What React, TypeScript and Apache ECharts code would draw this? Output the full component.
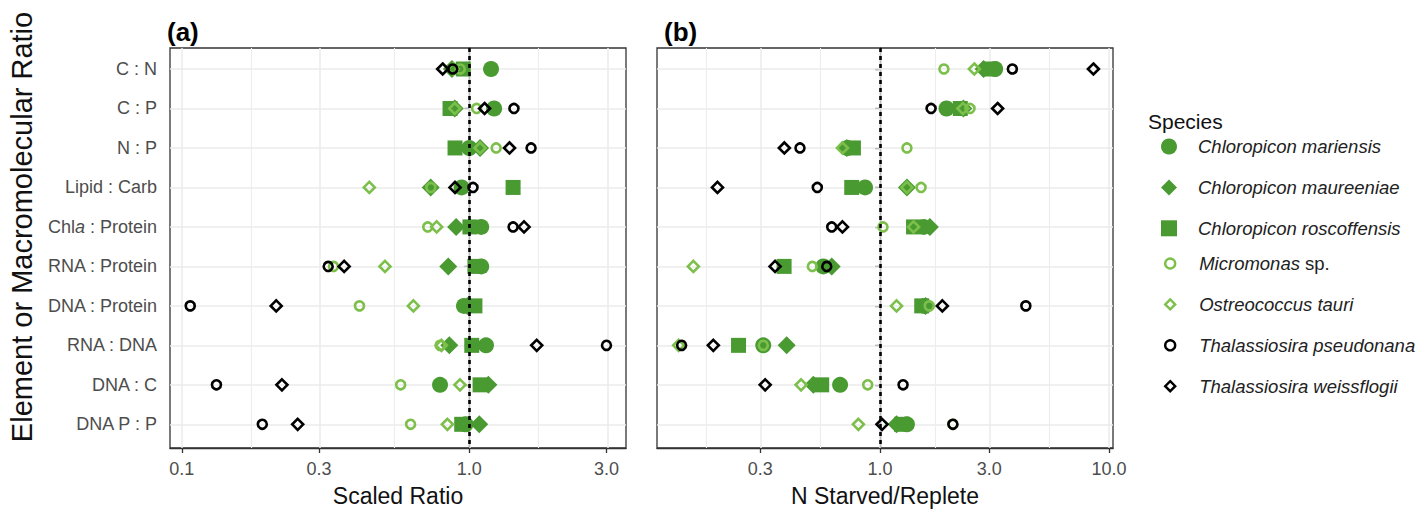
import React, { useEffect, useRef } from 'react';
import * as echarts from 'echarts';

const categories = [
  'C : N', 'C : P', 'N : P', 'Lipid : Carb', 'Chla : Protein',
  'RNA : Protein', 'DNA : Protein', 'RNA : DNA', 'DNA : C', 'DNA P : P',
];

const speciesNames = [
  'Chloropicon mariensis', 'Chloropicon maureeniae', 'Chloropicon roscoffensis',
  'Micromonas sp.', 'Ostreococcus tauri', 'Thalassiosira pseudonana', 'Thalassiosira weissflogii',
];

// Panel (a): scaled ratio, one value per category
const scaledMariensis = [1.19, 1.22, 1.0, 0.94, 1.10, 1.10, 0.958, 1.143, 0.791, 0.97];
const scaledMaureeniae = [0.87, 0.89, 1.09, 0.734, 0.90, 0.845, 0.985, 0.852, 1.165, 1.083];
const scaledRoscoffensis = [0.953, 0.857, 0.892, 1.42, 1.005, 1.046, 1.046, 1.02, 1.09, 0.941];
const scaledMicromonas = [0.93, 1.06, 1.24, 0.735, 0.717, 0.337, 0.415, 0.791, 0.577, 0.625];
const scaledOstreococcus = [0.88, 0.89, 1.09, 0.449, 0.77, 0.509, 0.639, 0.80, 0.928, 0.839];
const scaledPseudonana = [0.876, 1.43, 1.64, 1.03, 1.42, 0.323, 0.107, 3.0, 0.132, 0.1906];
const scaledWeissflogii = [0.808, 1.13, 1.38, 0.892, 1.55, 0.367, 0.213, 1.716, 0.223, 0.253];

// Panel (b): N starved / replete
const starvedMariensis = [3.18, 1.95, 0.72, 0.86, 1.55, 0.565, 1.56, 0.309, 0.669, 1.31];
const starvedMaureeniae = [2.83, 2.31, 0.716, 1.31, 1.65, 0.615, 1.58, 0.391, 0.511, 1.18];
const starvedRoscoffensis = [3.02, 2.24, 0.765, 0.752, 1.40, 0.381, 1.52, 0.241, 0.556, 1.24];
const starvedMicromonas = [1.90, 2.47, 1.31, 1.51, 1.03, 0.506, 1.64, 0.309, 0.883, 2.08];
const starvedOstreococcus = [2.58, 2.30, 0.685, 1.31, 1.40, 0.153, 1.18, 0.132, 0.452, 0.804];
const starvedPseudonana = [3.78, 1.67, 0.447, 0.532, 0.615, 0.585, 4.33, 0.136, 1.26, 2.08];
const starvedWeissflogii = [8.54, 3.26, 0.382, 0.195, 0.685, 0.348, 1.87, 0.187, 0.315, 1.02];

const ticksA = [0.1, 0.3, 1, 3];
const tickLabelsA = ['0.1', '0.3', '1.0', '3.0'];
const minorA = [0.1732, 0.5477, 1.732];
const ticksB = [0.3, 1, 3, 10];
const tickLabelsB = ['0.3', '1.0', '3.0', '10.0'];
const minorB = [0.1732, 0.5477, 1.732, 5.477];

const panelA = [scaledMariensis, scaledMaureeniae, scaledRoscoffensis, scaledMicromonas, scaledOstreococcus, scaledPseudonana, scaledWeissflogii];
const panelB = [starvedMariensis, starvedMaureeniae, starvedRoscoffensis, starvedMicromonas, starvedOstreococcus, starvedPseudonana, starvedWeissflogii];

const DARK = '#4a9a32';
const LIGHT = '#7cc04b';
const BLACK = '#000000';
const NONE = 'rgba(0,0,0,0)';

const markerStyles = [
  { symbol: 'circle', size: 16, fill: DARK, stroke: DARK, bw: 0 },
  { symbol: 'diamond', size: 18, fill: DARK, stroke: DARK, bw: 0 },
  { symbol: 'rect', size: 15, fill: DARK, stroke: DARK, bw: 0 },
  { symbol: 'circle', size: 9, fill: NONE, stroke: LIGHT, bw: 2.6 },
  { symbol: 'diamond', size: 11, fill: NONE, stroke: LIGHT, bw: 2.6 },
  { symbol: 'circle', size: 9, fill: NONE, stroke: BLACK, bw: 2.6 },
  { symbol: 'diamond', size: 11, fill: NONE, stroke: BLACK, bw: 2.6 },
];

const FONT = 'Liberation Sans, Arial, sans-serif';
const lg = (v: number) => Math.log10(v);

function labelFor(ticks: number[], labels: string[], v: number) {
  let best = 0;
  let d = Infinity;
  ticks.forEach((t, i) => {
    const dd = Math.abs(lg(t) - v);
    if (dd < d) { d = dd; best = i; }
  });
  return labels[best];
}

function buildOption() {
  const grids = [
    { left: 170, top: 48, width: 456, height: 400 },
    { left: 657, top: 48, width: 456, height: 400 },
  ].map((g) => ({
    ...g,
    show: true,
    borderColor: '#333',
    borderWidth: 1.3,
    backgroundColor: '#fff',
    containLabel: false,
    outerBoundsMode: 'none',
  }));

  const xBase = (idx: number, min: number, max: number, ticks: number[], labels: string[], name: string) => ({
    type: 'value',
    gridIndex: idx,
    min,
    max,
    name,
    nameLocation: 'middle',
    nameGap: 36,
    nameTextStyle: { fontSize: 23, color: '#111', fontFamily: FONT },
    axisLine: { show: true, onZero: false, lineStyle: { color: '#333', width: 1.3 } },
    axisTick: { show: true, length: 5, inside: false, customValues: ticks.map(lg), lineStyle: { color: '#333', width: 1.3 } },
    axisLabel: {
      customValues: ticks.map(lg),
      margin: 12,
      fontSize: 18,
      color: '#4d4d4d',
      fontFamily: FONT,
      formatter: (v: number) => labelFor(ticks, labels, v),
    },
    splitLine: { show: false },
  });

  const yBase = (idx: number, showLabels: boolean) => ({
    type: 'value',
    gridIndex: idx,
    inverse: true,
    min: -0.532,
    max: 9.6,
    axisLine: { show: true, lineStyle: { color: '#333', width: 1.3 } },
    axisTick: { show: true, length: 5, customValues: categories.map((_, i) => i), lineStyle: { color: '#333', width: 1.3 } },
    axisLabel: {
      show: showLabels,
      customValues: categories.map((_, i) => i),
      margin: 13,
      fontSize: 18,
      color: '#4d4d4d',
      fontFamily: FONT,
      formatter: (v: number) => {
        const c = categories[Math.round(v)] || '';
        if (c.indexOf('Chla') === 0) return '{n|Chl}{i|a}{n|' + c.slice(4) + '}';
        return '{n|' + c + '}';
      },
      rich: {
        n: { fontSize: 18, color: '#4d4d4d', fontFamily: FONT },
        i: { fontSize: 18, color: '#4d4d4d', fontFamily: FONT, fontStyle: 'italic' },
      },
    },
    splitLine: { show: false },
  });

  const gridLines = (idx: number, ticks: number[], minor: number[]) => ({
    type: 'scatter',
    xAxisIndex: idx,
    yAxisIndex: idx,
    data: [],
    silent: true,
    z: 1,
    markLine: {
      silent: true,
      z: 1,
      symbol: ['none', 'none'],
      label: { show: false },
      emphasis: { disabled: true },
      lineStyle: { color: '#ebebeb', width: 1.5, type: 'solid' },
      data: [
        ...ticks.map((t) => ({ xAxis: lg(t) })),
        ...minor.map((t) => ({ xAxis: lg(t), lineStyle: { color: '#ededed', width: 1.1, type: 'solid' } })),
        ...categories.map((_, i) => ({ yAxis: i })),
      ],
    },
  });

  const refLine = (idx: number) => ({
    type: 'scatter',
    xAxisIndex: idx,
    yAxisIndex: idx,
    data: [],
    silent: true,
    z: 10,
    markLine: {
      silent: true,
      z: 10,
      symbol: ['none', 'none'],
      label: { show: false },
      emphasis: { disabled: true },
      lineStyle: { color: '#000', width: 2.6, type: [4, 4] },
      data: [{ xAxis: 0 }],
    },
  });

  const pointSeries = (idx: number, panel: number[][]) =>
    panel.map((vals, s) => {
      const m = markerStyles[s];
      return {
        type: 'scatter',
        name: speciesNames[s],
        xAxisIndex: idx,
        yAxisIndex: idx,
        symbol: m.symbol,
        symbolSize: m.size,
        symbolKeepAspect: true,
        z: 3 + s * 0.01,
        itemStyle: { color: m.fill, borderColor: m.stroke, borderWidth: m.bw, opacity: 1 },
        emphasis: { disabled: true },
        data: vals.map((v, i) => [lg(v), i]),
      };
    });

  const legendItem = (s: number) => {
    const m = markerStyles[s];
    return {
      name: speciesNames[s],
      icon: m.symbol,
      itemStyle: { color: m.fill, borderColor: m.stroke, borderWidth: m.bw > 0 ? 2.4 : 0 },
    };
  };

  const legendCommon = (size: number, padLeft: number) => ({
    orient: 'vertical',
    padding: 0,
    itemWidth: size,
    itemHeight: size,
    itemGap: 21.9,
    symbolKeepAspect: true,
    selectedMode: false,
    formatter: (name: string) =>
      name === 'Micromonas sp.' ? '{i|Micromonas} {n|sp.}' : '{i|' + name + '}',
    textStyle: {
      fontSize: 18.5,
      color: '#222',
      fontFamily: FONT,
      lineHeight: 18,
      padding: [0, 0, 0, padLeft],
      rich: {
        i: { fontSize: 18.5, color: '#222', fontFamily: FONT, fontStyle: 'italic', lineHeight: 18 },
        n: { fontSize: 18.5, color: '#222', fontFamily: FONT, lineHeight: 18 },
      },
    },
  });

  return {
    animation: false,
    backgroundColor: '#fff',
    title: [
      { text: '(a)', left: 162, top: 14, textStyle: { fontSize: 26, fontWeight: 'bold', color: '#000', fontFamily: FONT } },
      { text: '(b)', left: 659, top: 14, textStyle: { fontSize: 26, fontWeight: 'bold', color: '#000', fontFamily: FONT } },
      { text: 'Species', left: 1143, top: 106, textStyle: { fontSize: 21, fontWeight: 'normal', color: '#111', fontFamily: FONT } },
    ],
    legend: [
      { ...legendCommon(16, 16), left: 1161, top: 137, data: [0, 1, 2].map(legendItem) },
      { ...legendCommon(10, 19), left: 1164, top: 254, data: [3, 4, 5, 6].map(legendItem) },
    ],
    grid: grids,
    xAxis: [
      xBase(0, -1.041, 0.545, ticksA, tickLabelsA, 'Scaled Ratio'),
      xBase(1, -0.974, 1.017, ticksB, tickLabelsB, 'N Starved/Replete'),
    ],
    yAxis: [yBase(0, true), yBase(1, false)],
    graphic: [
      {
        type: 'text',
        x: 22,
        y: 227,
        rotation: Math.PI / 2,
        style: {
          text: 'Element or Macromolecular Ratio',
          fontSize: 29,
          fill: '#111',
          fontFamily: FONT,
          textAlign: 'center',
          textVerticalAlign: 'middle',
        },
      },
    ],
    series: [
      gridLines(0, ticksA, minorA),
      gridLines(1, ticksB, minorB),
      ...pointSeries(0, panelA),
      ...pointSeries(1, panelB),
      refLine(0),
      refLine(1),
    ],
  };
}

export default function App() {
  const ref = useRef<HTMLDivElement>(null);
  useEffect(() => {
    if (!ref.current) return;
    const chart = echarts.init(ref.current, undefined, { renderer: 'svg' });
    chart.setOption(buildOption() as any);
    return () => chart.dispose();
  }, []);
  return (
    <div
      ref={ref}
      style={{ position: 'fixed', left: 0, top: 0, width: 1422, height: 509, background: '#fff' }}
    />
  );
}
